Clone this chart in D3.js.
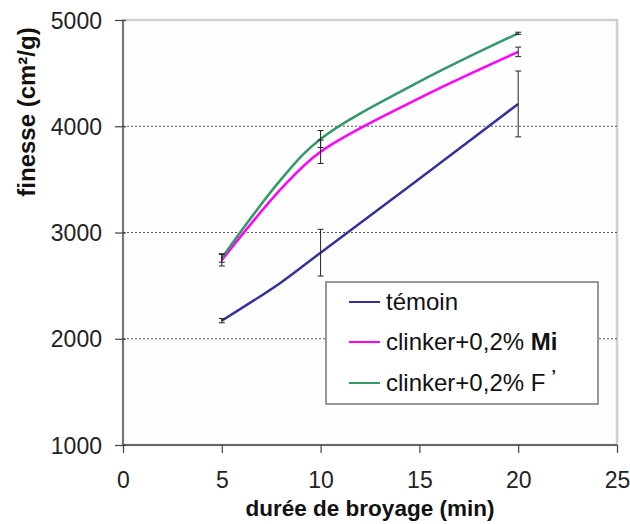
<!DOCTYPE html>
<html><head><meta charset="utf-8">
<script src="https://cdn.jsdelivr.net/npm/d3@7"></script>
<style>body{margin:0;background:#fff}svg{display:block}</style>
</head><body>
<script>
const durations = [5, 8, 10, 15, 20];
const temoin = [2170, 2530, 2810, 3505, 4210];
const clinkerMi = [2740, 3410, 3760, 4265, 4700];
const clinkerF = [2760, 3500, 3880, 4420, 4875];
const errX = [5, 10, 20];
const temoinErr = [20, 220, 310];
const miErr = [55, 110, 45];
const fErr = [40, 80, 10];
const xTicks = [0, 5, 10, 15, 20, 25];
const yTicks = [1000, 2000, 3000, 4000, 5000];
const seriesNames = ["témoin", "clinker+0,2% ", "clinker+0,2% "];
const seriesColors = ["#333399", "#ff00ff", "#339966"];

const FONT = "Liberation Sans, Arial, sans-serif";
const W = 630, H = 524;
const svg = d3.select("body").append("svg").attr("width", W).attr("height", H);
const x = d3.scaleLinear().domain([0, 25]).range([123, 617]);
const y = d3.scaleLinear().domain([1000, 5000]).range([445, 20]);

// frame (top/right light)
svg.append("rect").attr("x", x(0)).attr("y", y(5000)).attr("width", x(25) - x(0)).attr("height", y(1000) - y(5000))
  .attr("fill", "#fefefe").attr("stroke", "#cfcfcf").attr("stroke-width", 2.5);

// gridlines
svg.append("g").selectAll("line").data(yTicks.filter(d => d > 1000 && d < 5000)).join("line")
  .attr("x1", x(0)).attr("x2", x(25)).attr("y1", d => y(d)).attr("y2", d => y(d))
  .attr("stroke", "#555").attr("stroke-width", 1).attr("stroke-dasharray", "2,2");

// axes
const xAxis = svg.append("g").attr("transform", `translate(0,${y(1000)})`)
  .call(d3.axisBottom(x).tickValues(xTicks).tickFormat(d3.format("d")).tickSize(8).tickPadding(19));
const yAxis = svg.append("g").attr("transform", `translate(${x(0)},0)`)
  .call(d3.axisLeft(y).tickValues(yTicks).tickFormat(d3.format("d")).tickSize(8).tickPadding(13));
[xAxis, yAxis].forEach(g => {
  g.select(".domain").attr("stroke", "#444").attr("stroke-width", 1.3);
  g.selectAll(".tick line").attr("stroke", "#444").attr("stroke-width", 1.2);
  g.selectAll("text").attr("font-family", FONT).attr("font-size", 23).attr("fill", "#222");
});
xAxis.select(".domain").attr("d", `M${x(0)},0H${x(25)}`);
yAxis.select(".domain").attr("d", `M0,${y(1000)}V${y(5000)}`);
yAxis.selectAll(".tick line").attr("x2", -8).attr("x1", 3);
yAxis.selectAll(".tick text").attr("dy", "0.35em");

// lines
const line = d3.line().x((d, i) => x(durations[i])).y(d => y(d)).curve(d3.curveCatmullRom.alpha(0.5));
[temoin, clinkerMi, clinkerF].forEach((s, k) => {
  svg.append("path").attr("d", line(s)).attr("fill", "none")
    .attr("stroke", seriesColors[k]).attr("stroke-width", 2.5);
});

// error bars
function errBars(vals, errs) {
  const g = svg.append("g").attr("stroke", "#222").attr("stroke-width", 1);
  errX.forEach((xv, i) => {
    const v = vals[durations.indexOf(xv)], e = errs[i];
    g.append("line").attr("x1", x(xv)).attr("x2", x(xv)).attr("y1", y(v - e)).attr("y2", y(v + e));
    [v - e, v + e].forEach(t => g.append("line").attr("x1", x(xv) - 3).attr("x2", x(xv) + 3).attr("y1", y(t)).attr("y2", y(t)));
  });
}
errBars(temoin, temoinErr);
errBars(clinkerMi, miErr);
errBars(clinkerF, fErr);

// legend
const lg = svg.append("g");
lg.append("rect").attr("x", 326).attr("y", 282).attr("width", 272).attr("height", 122)
  .attr("fill", "#fff").attr("stroke", "#777").attr("stroke-width", 1.5);
const rowsY = [302, 342, 383];
seriesNames.forEach((n, k) => {
  lg.append("line").attr("x1", 349).attr("x2", 380).attr("y1", rowsY[k]).attr("y2", rowsY[k])
    .attr("stroke", seriesColors[k]).attr("stroke-width", 2);
  const t = lg.append("text").attr("x", 386).attr("y", rowsY[k] + 8)
    .attr("font-family", FONT).attr("font-size", 24).attr("fill", "#111");
  t.append("tspan").text(n);
  if (k === 1) t.append("tspan").attr("font-weight", "bold").text("Mi");
  if (k === 2) {
    t.append("tspan").text("F");
    t.append("tspan").attr("dx", 6).attr("dy", -9).attr("font-size", 16).attr("font-weight", "bold").text("’");
  }
});

// titles
svg.append("text").attr("x", 370).attr("y", 516).attr("text-anchor", "middle")
  .attr("font-family", FONT).attr("font-size", 22.5).attr("font-weight", "bold")
  .attr("fill", "#111").text("durée de broyage (min)");
svg.append("text").attr("transform", "translate(35,112) rotate(-90)").attr("text-anchor", "middle")
  .attr("font-family", FONT).attr("font-size", 24).attr("font-weight", "bold")
  .attr("fill", "#111").text("finesse (cm²/g)");
</script>
</body></html>
